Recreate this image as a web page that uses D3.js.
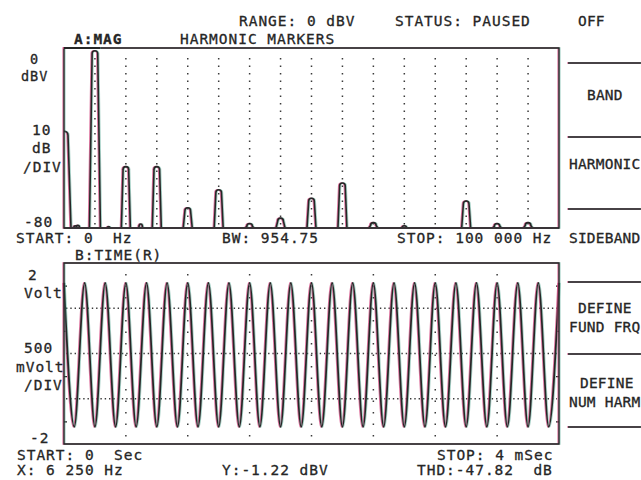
<!DOCTYPE html>
<html>
<head>
<meta charset="utf-8">
<script src="https://cdn.jsdelivr.net/npm/d3@7"></script>
<style>
  body { margin: 0; background: #fff; }
  svg text { font-family: "DejaVu Sans Mono", monospace; font-size: 14.5px; letter-spacing: 0.97px;
             fill: #262626; stroke: #262626; stroke-width: 0.3px; white-space: pre; }
  svg text.menu { letter-spacing: 0.2px; }
  svg text.small { font-size: 13.5px; }
</style>
</head>
<body>
<svg width="641" height="480"></svg>
<script>
// trace A: harmonic spectrum (Hz, dBV) - fundamental 6250 Hz
const harmonicFreqs = [0, 6250, 12500, 18750, 25000, 31250, 37500, 43750, 50000, 56250, 62500, 68750, 75000, 81250, 87500, 93750];
const harmonicLevels = [-37, -1.2, -52.7, -52.7, -71, -63, -78, -75.6, -66.8, -60, -77.6, -79, -80, -68, -78, -77.6];
// little noise bumps on the floor
const noiseFreqs = [2300, 2800, 9000, 15500];
const noiseLevels = [-79, -78.8, -79.4, -78.2];

// trace B: time record, extrema (ms)
const peakTimes = [0, 0.167, 0.333, 0.5, 0.667, 0.833, 1, 1.167, 1.333, 1.5, 1.667, 1.833, 2, 2.167, 2.333, 2.5, 2.667, 2.833, 3, 3.167, 3.333, 3.5, 3.667, 3.833, 4];
const troughTimes = [0.083, 0.25, 0.417, 0.583, 0.75, 0.917, 1.083, 1.25, 1.417, 1.583, 1.75, 1.917, 2.083, 2.25, 2.417, 2.583, 2.75, 2.917, 3.083, 3.25, 3.417, 3.583, 3.75, 3.917];
const peakVolt = 1.56;
const troughVolt = -1.62;

const menuItems = ["OFF", "BAND", "HARMONIC", "SIDEBAND", ["DEFINE", "FUND FRQ"], ["DEFINE", "NUM HARM"]];

const svg = d3.select("svg");
const ink = "#262626";

const x = d3.scaleLinear([0, 100000], [64, 559]);
const y = d3.scaleLinear([-80, 0], [228, 48]);
const xt = d3.scaleLinear([0, 4], [64, 559]);
const yv = d3.scaleLinear([-2, 2], [444, 263]);

// plotter look: dark line with magenta / green fringes
function traced(g, d, w) {
  g.append("path").attr("d", d).attr("transform", "translate(-0.9,0)")
    .attr("fill", "none").attr("stroke", "#d2467f").attr("stroke-width", w).attr("opacity", 0.75);
  g.append("path").attr("d", d).attr("transform", "translate(0.9,0)")
    .attr("fill", "none").attr("stroke", "#3f9c86").attr("stroke-width", w).attr("opacity", 0.45);
  g.append("path").attr("d", d)
    .attr("fill", "none").attr("stroke", ink).attr("stroke-width", w);
}

function label(t, px, py, cls) {
  svg.append("text").attr("x", px).attr("y", py).attr("class", cls || null)
    .attr("xml:space", "preserve").text(t);
}

// ---------- top panel: spectrum ----------
const panelA = svg.append("g");
panelA.append("clipPath").attr("id", "clipA")
  .append("rect").attr("x", 64).attr("y", 40).attr("width", 495).attr("height", 190);

// harmonic markers
panelA.append("g").selectAll("line")
  .data(harmonicFreqs.slice(1))
  .join("line")
    .attr("x1", d => x(d)).attr("x2", d => x(d))
    .attr("y1", 58).attr("y2", 226)
    .attr("stroke", "#3a3a3a").attr("stroke-width", 1.5)
    .attr("stroke-dasharray", "1.5 6");

function peakPath(cx, ty, hw, r) {
  const fy = y(-80);
  const h = fy - ty;
  if (h < 0.5) return "";
  const rr = Math.min(r, h);
  return `M${cx - hw},${fy}L${cx - rr},${ty + rr}A${rr},${rr} 0 0 1 ${cx + rr},${ty + rr}L${cx + hw},${fy}`;
}

let spec = `M${x(0)},${y(-80)}H${x(100000)}`;
harmonicFreqs.forEach((f, i) => {
  const hw = i === 0 ? 7 : i === 1 ? 5.5 : 4.5;
  const r = i === 0 ? 4 : 2.8;
  spec += peakPath(x(f), y(harmonicLevels[i]), hw, r);
});
noiseFreqs.forEach((f, i) => {
  spec += peakPath(x(f), y(noiseLevels[i]), 2, 1.5);
});
traced(panelA.append("g").attr("clip-path", "url(#clipA)"), spec, 1.6);

traced(panelA.append("g"), `M64,48H559V228H64Z`, 1.4);
traced(panelA.append("g"), `M64,48H100`, 2.2);

// ---------- bottom panel: time ----------
const panelB = svg.append("g");

panelB.append("g").selectAll("line")
  .data(xt.ticks(10).filter(t => t > 0 && t < 4))
  .join("line")
    .attr("x1", d => xt(d)).attr("x2", d => xt(d))
    .attr("y1", 274).attr("y2", 440)
    .attr("stroke", "#3a3a3a").attr("stroke-width", 1.5)
    .attr("stroke-dasharray", "1.5 10");

panelB.append("g").selectAll("line")
  .data([1, 0, -1])
  .join("line")
    .attr("x1", 66).attr("x2", 557)
    .attr("y1", d => yv(d)).attr("y2", d => yv(d))
    .attr("stroke", "#3a3a3a").attr("stroke-width", 1.4)
    .attr("stroke-dasharray", "1.4 2.9");

// small inward ticks on both borders
[[64, d3.axisLeft], [559, d3.axisRight]].forEach(([px, ax]) => {
  const a = panelB.append("g").attr("transform", `translate(${px},0)`)
    .call(ax(yv).tickValues([-1.5, -0.5, 0.5, 1.5]).tickSize(-3).tickFormat(""));
  a.select(".domain").remove();
  a.selectAll("line").attr("stroke", ink).attr("stroke-width", 1.3);
});

const extrema = peakTimes.map(t => [t, peakVolt])
  .concat(troughTimes.map(t => [t, troughVolt]))
  .sort((a, b) => a[0] - b[0]);
const wave = d3.line().x(d => xt(d[0])).y(d => yv(d[1])).curve(d3.curveMonotoneX);
traced(panelB.append("g"), wave(extrema), 1.7);

traced(panelB.append("g"), `M64,263H559V444H64Z`, 1.4);

// ---------- side menu ----------
[63, 137, 209, 282, 354, 427].forEach(ly => {
  traced(svg.append("g"), `M568,${ly}H641`, 1.4);
});

// ---------- texts ----------
label("RANGE: 0 dBV", 239, 26);
label("STATUS: PAUSED", 395, 26);
svg.append("text").attr("x", 74).attr("y", 44).style("font-weight", "bold").text("A:MAG");
label("HARMONIC MARKERS", 180, 44);

label("0", 30, 64, "small");
label("dBV", 21, 81, "small");
label("10", 32, 135);
label("dB", 32, 153);
label("/DIV", 23, 172);
label("-80", 24, 227);

label("START: 0  Hz", 16, 243);
label("BW: 954.75", 222, 243);
label("STOP: 100 000 Hz", 397, 243);

label("B:TIME(R)", 75, 260);
label("2", 28, 280);
label("Volt", 24, 298);
label("500", 24, 353);
label("mVolt", 16, 372);
label("/DIV", 24, 390);
label("-2", 30, 443);

label("START: 0  Sec", 17, 460);
label("STOP: 4 mSec", 437, 460);
label("X: 6 250 Hz", 17, 475);
label("Y:-1.22 dBV", 222, 475);
label("THD:-47.82  dB", 417, 475);

label(menuItems[0], 578, 26, "menu");
label(menuItems[1], 587, 100, "menu");
label(menuItems[2], 569, 169, "menu");
label(menuItems[3], 569, 243, "menu");
label(menuItems[4][0], 578, 313, "menu");
label(menuItems[4][1], 569, 332, "menu");
label(menuItems[5][0], 580, 388, "menu");
label(menuItems[5][1], 569, 407, "menu");
</script>
</body>
</html>
